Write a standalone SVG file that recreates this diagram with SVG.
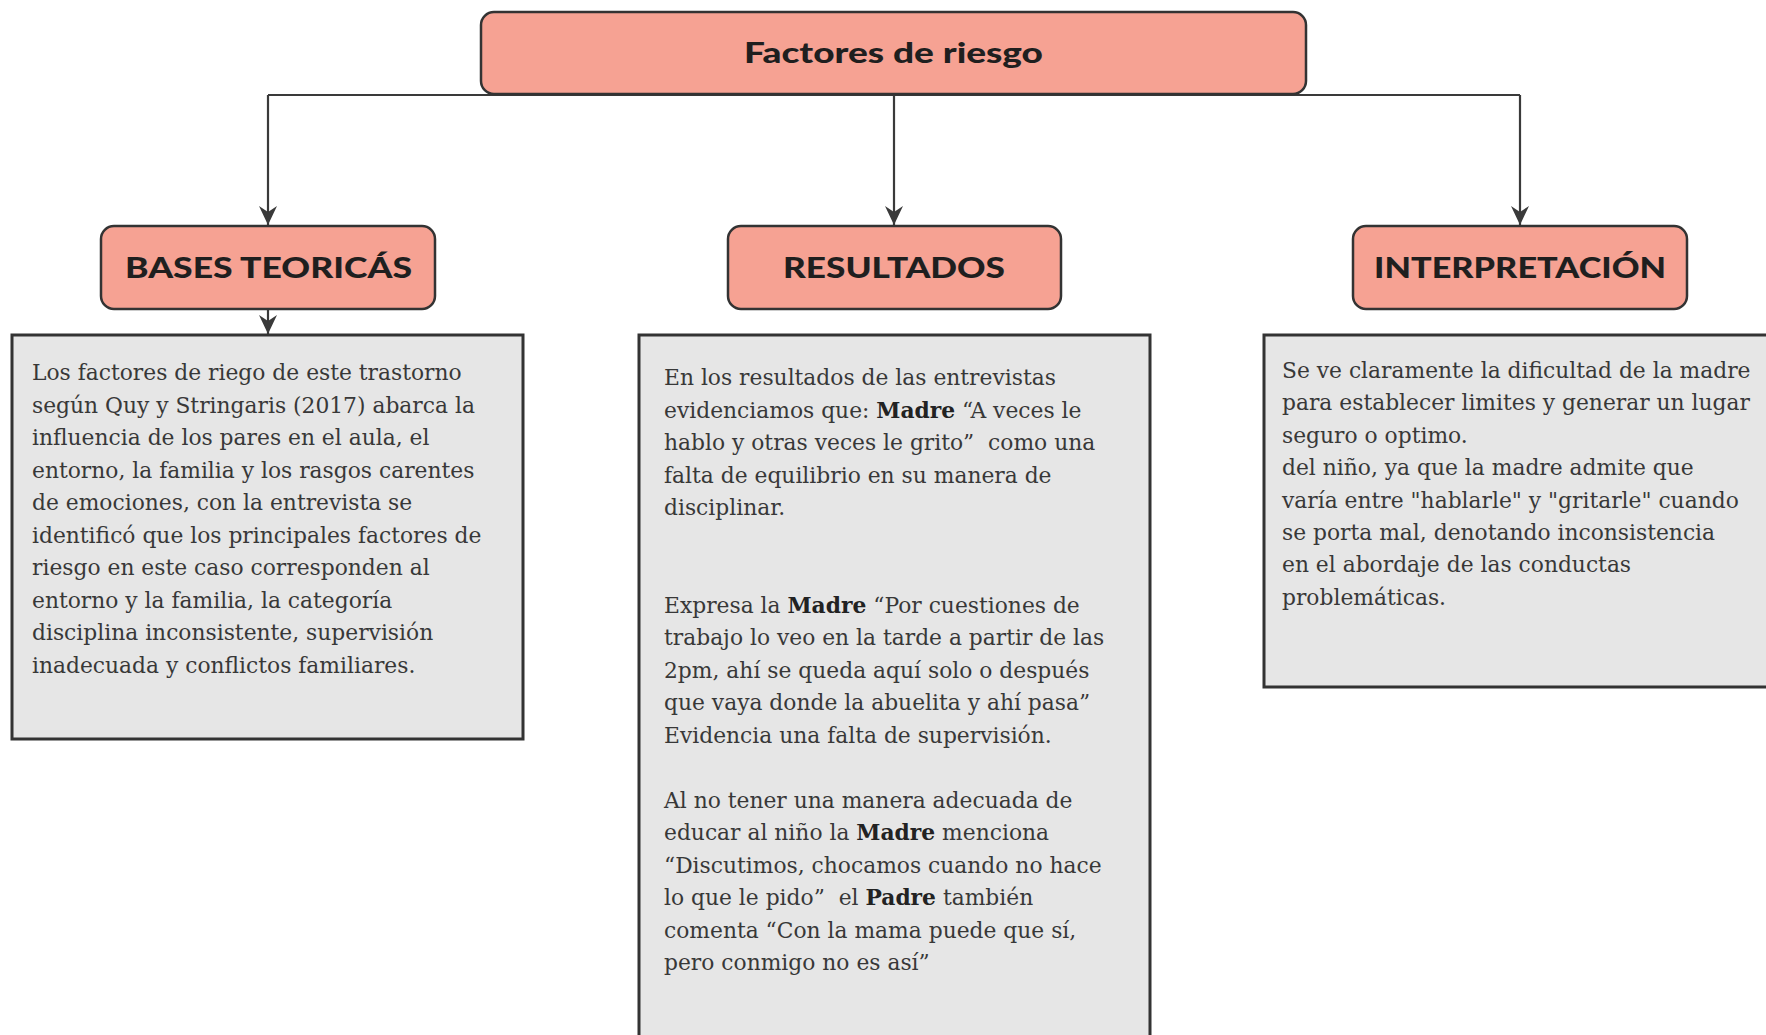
<svg xmlns="http://www.w3.org/2000/svg" width="1766" height="1035" viewBox="0 0 1766 1035">
<defs>
<marker id="arr" viewBox="-20 -10 20 20" refX="0" refY="0" markerWidth="20" markerHeight="20" markerUnits="userSpaceOnUse" orient="auto">
<path d="M0,0 L-19,-9 L-13,0 L-19,9 Z" fill="#3a3a3a"/>
</marker>
<style>
.hdr{fill:#F6A293;stroke:#333;stroke-width:2.5}
.hdt{font-family:Lato,"Open Sans",sans-serif;font-weight:900;fill:#1f1f1f;text-anchor:middle}
.card{fill:#E6E6E6;stroke:#333;stroke-width:3}
.body{font-family:"DejaVu Serif",serif;font-size:21.8px;fill:#383838}
.b{font-weight:bold;fill:#222}
.con{fill:none;stroke:#3a3a3a;stroke-width:2.2}
</style>
</defs>
<rect width="1766" height="1035" fill="#fff"/>

<g id="connectors">
<path class="con" d="M268,95 H1520"/>
<path class="con" d="M268,95 V225" marker-end="url(#arr)"/>
<path class="con" d="M894,94 V225" marker-end="url(#arr)"/>
<path class="con" d="M1520,95 V225" marker-end="url(#arr)"/>
<path class="con" d="M268,310 V334" marker-end="url(#arr)"/>
</g>

<g id="root">
<rect class="hdr" x="481" y="12" width="825" height="82" rx="13"/>
<text class="hdt" x="893.5" y="63" font-size="29" textLength="299" lengthAdjust="spacingAndGlyphs">Factores de riesgo</text>
</g>

<g id="bases">
<rect class="hdr" x="101" y="226" width="334" height="83" rx="13"/>
<text class="hdt" x="268.5" y="278" font-size="29" textLength="287" lengthAdjust="spacingAndGlyphs">BASES TEORICÁS</text>
</g>

<g id="resultados">
<rect class="hdr" x="728" y="226" width="333" height="83" rx="13"/>
<text class="hdt" x="894" y="278" font-size="29" textLength="222" lengthAdjust="spacingAndGlyphs">RESULTADOS</text>
</g>

<g id="interpretacion">
<rect class="hdr" x="1353" y="226" width="334" height="83" rx="13"/>
<text class="hdt" x="1520" y="278" font-size="29" textLength="292" lengthAdjust="spacingAndGlyphs">INTERPRETACIÓN</text>
</g>

<g id="bases-texto">
<rect class="card" x="12" y="335" width="511" height="404"/>
<text class="body">
<tspan x="32" y="380">Los factores de riego de este trastorno</tspan>
<tspan x="32" y="412.5">según Quy y Stringaris (2017) abarca la</tspan>
<tspan x="32" y="445">influencia de los pares en el aula, el</tspan>
<tspan x="32" y="477.5">entorno, la familia y los rasgos carentes</tspan>
<tspan x="32" y="510">de emociones, con la entrevista se</tspan>
<tspan x="32" y="542.5">identificó que los principales factores de</tspan>
<tspan x="32" y="575">riesgo en este caso corresponden al</tspan>
<tspan x="32" y="607.5">entorno y la familia, la categoría</tspan>
<tspan x="32" y="640">disciplina inconsistente, supervisión</tspan>
<tspan x="32" y="672.5">inadecuada y conflictos familiares.</tspan>
</text>
</g>

<g id="resultados-texto">
<rect class="card" x="639" y="335" width="511" height="740"/>
<text class="body">
<tspan x="664" y="385">En los resultados de las entrevistas</tspan>
<tspan x="664" y="417.5">evidenciamos que: <tspan class="b">Madre</tspan> “A veces le</tspan>
<tspan x="664" y="450">hablo y otras veces le grito” &#160;como una</tspan>
<tspan x="664" y="482.5">falta de equilibrio en su manera de</tspan>
<tspan x="664" y="515">disciplinar.</tspan>
<tspan x="664" y="612.5">Expresa la <tspan class="b">Madre</tspan> “Por cuestiones de</tspan>
<tspan x="664" y="645">trabajo lo veo en la tarde a partir de las</tspan>
<tspan x="664" y="677.5">2pm, ahí se queda aquí solo o después</tspan>
<tspan x="664" y="710">que vaya donde la abuelita y ahí pasa”</tspan>
<tspan x="664" y="742.5">Evidencia una falta de supervisión.</tspan>
<tspan x="664" y="807.5">Al no tener una manera adecuada de</tspan>
<tspan x="664" y="840">educar al niño la <tspan class="b">Madre</tspan> menciona</tspan>
<tspan x="664" y="872.5">“Discutimos, chocamos cuando no hace</tspan>
<tspan x="664" y="905">lo que le pido” &#160;el <tspan class="b">Padre</tspan> también</tspan>
<tspan x="664" y="937.5">comenta “Con la mama puede que sí,</tspan>
<tspan x="664" y="970">pero conmigo no es así”</tspan>
</text>
</g>

<g id="interpretacion-texto">
<rect class="card" x="1264" y="335" width="530" height="352"/>
<text class="body">
<tspan x="1282" y="378">Se ve claramente la dificultad de la madre</tspan>
<tspan x="1282" y="410.4">para establecer limites y generar un lugar</tspan>
<tspan x="1282" y="442.8">seguro o optimo.</tspan>
<tspan x="1282" y="475.2">del niño, ya que la madre admite que</tspan>
<tspan x="1282" y="507.6">varía entre "hablarle" y "gritarle" cuando</tspan>
<tspan x="1282" y="540">se porta mal, denotando inconsistencia</tspan>
<tspan x="1282" y="572.4">en el abordaje de las conductas</tspan>
<tspan x="1282" y="604.8">problemáticas.</tspan>
</text>
</g>
</svg>
